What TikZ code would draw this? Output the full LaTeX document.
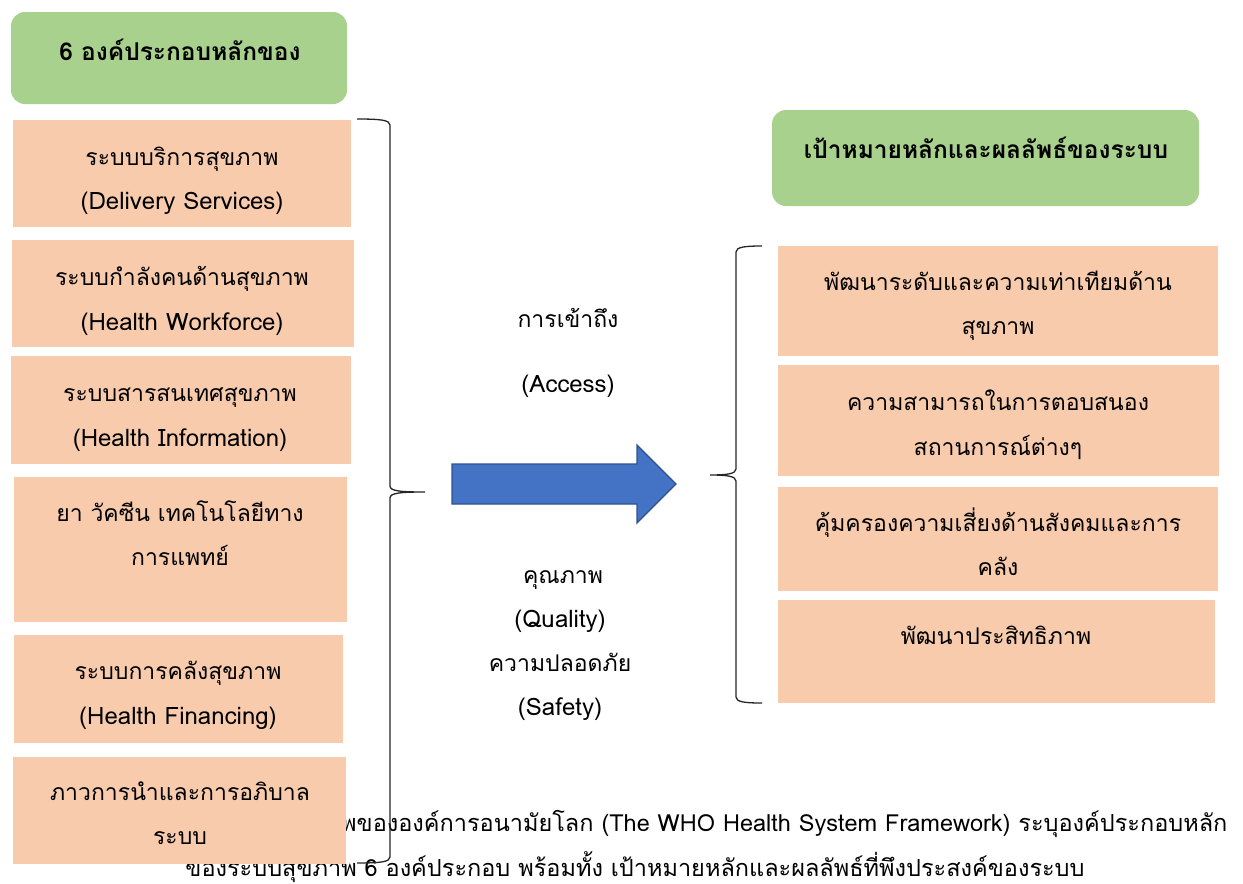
\documentclass[tikz,border=0pt]{standalone}
\usepackage{fontspec}
\setmainfont[Script=Thai]{Loma}
\usetikzlibrary{calc}
\definecolor{headgreen}{HTML}{A9D18E}
\definecolor{partfill}{HTML}{F8CBAD}
\definecolor{arrowblue}{HTML}{4472C4}
\definecolor{arrowedge}{HTML}{2F528F}
\begin{document}
\begin{tikzpicture}[x=1pt,y=-1pt,
  headbox/.style={fill=headgreen,rounded corners=14pt},
  partbox/.style={fill=partfill},
  txt/.style={font=\fontsize{23}{26}\selectfont,inner sep=0pt,anchor=base},
  lat/.style={font=\fontsize{24}{27}\selectfont,inner sep=0pt,anchor=base},
  headtxt/.style={font=\fontsize{24.5}{28}\selectfont\bfseries,inner sep=0pt,anchor=base},
  captxt/.style={font=\fontsize{23.5}{27}\selectfont,inner sep=0pt,anchor=base},
  brace/.style={draw=black!85,line width=1.3pt}]
\useasboundingbox[fill=white] (0,0) rectangle (1243,884);

% caption beneath the panels
\node[captxt,anchor=base west] (cap1) at (341,831) {พขององค์การอนามัยโลก (The WHO Health System Framework) ระบุองค์ประกอบหลัก};
\node[captxt] (cap2) at (635,876) {ของระบบสุขภาพ 6 องค์ประกอบ พร้อมทั้ง เป้าหมายหลักและผลลัพธ์ที่พึงประสงค์ของระบบ};

% left column: heading and six building blocks
\path[headbox] (11,12) rectangle (347,104);
\node[headtxt] (lhead) at (180,60) {6 องค์ประกอบหลักของ};

\path[partbox] (13,120) rectangle (351,227);
\node[txt] (l1a) at (182,165) {ระบบบริการสุขภาพ};
\node[lat] (l1b) at (182,209) {(Delivery Services)};

\path[partbox] (12,240) rectangle (354,347);
\node[txt] (l2a) at (182,285) {ระบบกำลังคนด้านสุขภาพ};
\node[lat] (l2b) at (182,330) {(Health Workforce)};

\path[partbox] (11,356) rectangle (351,464);
\node[txt] (l3a) at (180,401) {ระบบสารสนเทศสุขภาพ};
\node[lat] (l3b) at (180,446) {(Health Information)};

\path[partbox] (14,477) rectangle (347,622);
\node[txt] (l4a) at (180,521) {ยา วัคซีน เทคโนโลยีทาง};
\node[txt] (l4b) at (180,565) {การแพทย์};

\path[partbox] (14,635) rectangle (343,743);
\node[txt] (l5a) at (178,679) {ระบบการคลังสุขภาพ};
\node[lat] (l5b) at (178,724) {(Health Financing)};

\path[partbox] (13,757) rectangle (346,864);
\node[txt] (l6a) at (180,800) {ภาวการนำและการอภิบาล};
\node[txt] (l6b) at (180,844) {ระบบ};

% left brace
\coordinate (lbT) at (357,119);
\coordinate (lbB) at (357,863);
\coordinate (lbTip) at (425,492);
\draw[brace] (lbT) .. controls (380,119) and (390,120) .. (390,125)
  -- (390,486) .. controls (390,491) and (400,492) .. (lbTip)
  (lbTip) .. controls (400,492) and (390,493) .. (390,498)
  -- (390,857) .. controls (390,862) and (380,863) .. (lbB);

% centre labels and arrow
\node[txt] (acc1) at (568,327) {การเข้าถึง};
\node[lat] (acc2) at (568,392) {(Access)};
\node[txt] (q1) at (563,583) {คุณภาพ};
\node[lat] (q2) at (560,627) {(Quality)};
\node[txt] (s1) at (560,671) {ความปลอดภัย};
\node[lat] (s2) at (560,715) {(Safety)};

\coordinate (arT) at (676,484);
\draw[fill=arrowblue,draw=arrowedge,line width=1.3pt,line join=miter]
  (452,464) -- (637,464) -- (637,445) -- (arT) -- (637,523) -- (637,504) -- (452,504) -- cycle;

% right column: heading and four goals
\path[headbox] (772,110) rectangle (1199,206);
\node[headtxt] (rhead) at (986,158) {เป้าหมายหลักและผลลัพธ์ของระบบ};

\path[partbox] (778,246) rectangle (1218,356);
\node[txt] (r1a) at (998,290) {พัฒนาระดับและความเท่าเทียมด้าน};
\node[txt] (r1b) at (998,334) {สุขภาพ};

\path[partbox] (778,365) rectangle (1219,476);
\node[txt] (r2a) at (998,410) {ความสามารถในการตอบสนอง};
\node[txt] (r2b) at (998,455) {สถานการณ์ต่างๆ};

\path[partbox] (778,487) rectangle (1218,591);
\node[txt] (r3a) at (998,531) {คุ้มครองความเสี่ยงด้านสังคมและการ};
\node[txt] (r3b) at (998,575) {คลัง};

\path[partbox] (778,600) rectangle (1215,703);
\node[txt] (r4a) at (996,644) {พัฒนาประสิทธิภาพ};

% right brace
\coordinate (rbT) at (762,246);
\coordinate (rbB) at (762,703);
\coordinate (rbTip) at (710,475);
\draw[brace] (rbT) .. controls (745,246) and (736,247) .. (736,252)
  -- (736,469) .. controls (736,474) and (726,475) .. (rbTip)
  (rbTip) .. controls (726,475) and (736,476) .. (736,481)
  -- (736,697) .. controls (736,702) and (745,703) .. (rbB);
\end{tikzpicture}
\end{document}
